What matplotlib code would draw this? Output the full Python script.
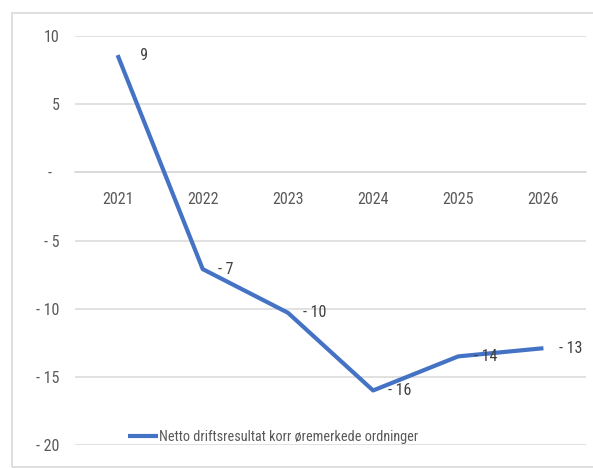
import matplotlib
matplotlib.use("Agg")
import matplotlib.pyplot as plt
from matplotlib import font_manager
from matplotlib.patches import Rectangle

years = ["2021", "2022", "2023", "2024", "2025", "2026"]
netto = [8.6, -7.1, -10.3, -16.0, -13.5, -12.9]
series_name = "Netto driftsresultat korr øremerkede ordninger"
yticks = [10, 5, 0, -5, -10, -15, -20]


def acct(v):
    # excel style accounting format
    v = int(round(v))
    if v == 0:
        return "-  "
    if v < 0:
        return "- %d" % -v
    return "%d" % v


# narrow font close to Calibri if available
fam = "DejaVu Sans"
for f in ["Liberation Sans Narrow", "Roboto Condensed", "Open Sans", "Liberation Sans"]:
    try:
        font_manager.findfont(f, fallback_to_default=False)
        fam = f
        break
    except Exception:
        pass
plt.rcParams["font.family"] = [fam, "DejaVu Sans"]

grey_txt = "#595959"
grid_c = "#D9D9D9"
blue = "#4472C4"

fig = plt.figure(figsize=(5.93, 4.68), dpi=100)
fig.patch.set_facecolor("white")
ax = fig.add_axes([75 / 593, 1 - 445 / 468, (586 - 75) / 593, (445 - 36) / 468])

x = list(range(len(years)))
line, = ax.plot(x, netto, color=blue, lw=3, solid_joinstyle="round",
                solid_capstyle="butt", label=series_name, zorder=3)

for xi, v in zip(x, netto):
    s = acct(v)
    if v > 0:
        s = "  " + s
    ax.annotate(s, (xi, v), xytext=(11, 0), textcoords="offset points",
                ha="left", va="center", fontsize=11.5, color="#404040")

ax.set_xlim(-0.5, len(years) - 0.5)
ax.set_ylim(-20, 10)
ax.set_yticks(yticks)
ax.set_yticklabels([acct(v) for v in yticks])
ax.set_xticks(x)
ax.set_xticklabels(years)
ax.grid(axis="y", color=grid_c, lw=1.1)
ax.set_axisbelow(True)

for s in ["top", "right", "left"]:
    ax.spines[s].set_visible(False)
ax.spines["bottom"].set_position(("data", 0))
ax.spines["bottom"].set_color(grid_c)
ax.spines["bottom"].set_linewidth(1.1)
ax.tick_params(axis="x", length=0, pad=14, labelsize=11.5, labelcolor=grey_txt)
ax.tick_params(axis="y", length=0, pad=11, labelsize=11.5, labelcolor=grey_txt)

leg = fig.legend(handles=[line], loc="center", bbox_to_anchor=(273 / 593, 1 - 437 / 468),
                 frameon=False, fontsize=10.3, handlelength=2.1, handletextpad=0.1,
                 labelcolor=grey_txt)

fig.patches.append(Rectangle((12 / 593, 1 - 467 / 468), (600 - 12) / 593, (467 - 13) / 468,
                             transform=fig.transFigure, fill=False, ec=grid_c, lw=1.2))

fig.savefig("out.png", dpi=100)
